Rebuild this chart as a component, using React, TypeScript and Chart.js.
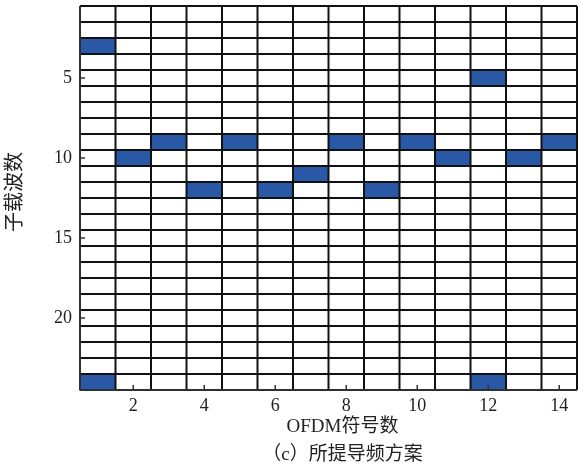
import React, { useEffect, useRef } from "react";
import { Chart, registerables } from "chart.js";

Chart.register(...registerables);

const symbolCount = 14;
const subcarrierCount = 24;
const pilotSymbols = [1, 2, 3, 4, 5, 6, 7, 8, 9, 10, 11, 12, 13, 14, 1, 12];
const pilotSubcarriers = [3, 10, 9, 12, 9, 12, 11, 9, 12, 9, 10, 5, 10, 9, 24, 24];
const xTickValues = [2, 4, 6, 8, 10, 12, 14];
const yTickValues = [5, 10, 15, 20];
const xTitle = "OFDM符号数";
const yTitle = "子载波数";
const caption = "（c）所提导频方案";

const FONT = "'Liberation Serif', 'Noto Sans CJK SC', serif";
const BLUE = "#2958a6";

const gridPlugin = {
  id: "pilotGrid",
  beforeDatasetsDraw(chart: any) {
    const ctx = chart.ctx;
    const xs = chart.scales.x;
    const ys = chart.scales.y;
    const pilots = chart.data.datasets[0].data as { x: number; y: number }[];
    ctx.save();
    for (let i = 1; i <= symbolCount; i++) {
      for (let j = 1; j <= subcarrierCount; j++) {
        const x0 = xs.getPixelForValue(i - 0.5);
        const x1 = xs.getPixelForValue(i + 0.5);
        const y0 = ys.getPixelForValue(j - 0.5);
        const y1 = ys.getPixelForValue(j + 0.5);
        const isPilot = pilots.some((p) => p.x === i && p.y === j);
        ctx.fillStyle = isPilot ? BLUE : "#ffffff";
        ctx.fillRect(Math.min(x0, x1), Math.min(y0, y1), Math.abs(x1 - x0), Math.abs(y1 - y0));
      }
    }
    ctx.strokeStyle = "#111111";
    ctx.lineWidth = 2;
    const top = ys.getPixelForValue(0.5);
    const bottom = ys.getPixelForValue(subcarrierCount + 0.5);
    const left = xs.getPixelForValue(0.5);
    const right = xs.getPixelForValue(symbolCount + 0.5);
    for (let i = 0; i <= symbolCount; i++) {
      const x = xs.getPixelForValue(i + 0.5);
      ctx.beginPath();
      ctx.moveTo(x, top);
      ctx.lineTo(x, bottom);
      ctx.stroke();
    }
    for (let j = 0; j <= subcarrierCount; j++) {
      const y = ys.getPixelForValue(j + 0.5);
      ctx.beginPath();
      ctx.moveTo(left, y);
      ctx.lineTo(right, y);
      ctx.stroke();
    }
    ctx.strokeStyle = "#3a3a3a";
    ctx.lineWidth = 1.5;
    ctx.beginPath();
    ctx.moveTo(left, top);
    ctx.lineTo(left, bottom);
    ctx.lineTo(right, bottom);
    ctx.stroke();
    ctx.strokeStyle = "#333333";
    ctx.lineWidth = 1.5;
    for (const v of xTickValues) {
      const x = xs.getPixelForValue(v);
      ctx.beginPath();
      ctx.moveTo(x, bottom);
      ctx.lineTo(x, bottom - 5);
      ctx.stroke();
    }
    for (const v of yTickValues) {
      const y = ys.getPixelForValue(v);
      ctx.beginPath();
      ctx.moveTo(left, y);
      ctx.lineTo(left + 5, y);
      ctx.stroke();
    }
    ctx.restore();
  },
  afterDraw(chart: any) {
    const ctx = chart.ctx;
    const area = chart.chartArea;
    ctx.save();
    ctx.fillStyle = "#222222";
    ctx.textAlign = "center";
    ctx.textBaseline = "middle";
    const cx = (area.left + area.right) / 2 + 14;
    ctx.font = `19px ${FONT}`;
    ctx.fillText(xTitle, cx, 427);
    ctx.fillText(caption, cx, 455);
    ctx.font = `20px ${FONT}`;
    ctx.translate(16, 192);
    ctx.rotate(-Math.PI / 2);
    ctx.fillText(yTitle, 0, 0);
    ctx.restore();
  },
};

export default function App() {
  const ref = useRef<HTMLCanvasElement | null>(null);
  useEffect(() => {
    if (!ref.current) return;
    const chart = new Chart(ref.current, {
      type: "scatter",
      data: {
        datasets: [
          {
            label: "pilots",
            data: pilotSymbols.map((s, i) => ({ x: s, y: pilotSubcarriers[i] })),
            pointRadius: 0,
            pointHoverRadius: 0,
          },
        ],
      },
      options: {
        responsive: false,
        animation: false,
        layout: { padding: { top: 6, right: 1, left: 0, bottom: 0 } },
        plugins: { legend: { display: false }, tooltip: { enabled: false } },
        scales: {
          x: {
            type: "linear",
            min: 0.5,
            max: symbolCount + 0.5,
            grid: { display: false, drawTicks: false },
            border: { display: false },
            afterBuildTicks: (s: any) => {
              s.ticks = xTickValues.map((v) => ({ value: v }));
            },
            afterFit: (s: any) => {
              s.height = 75;
              s.paddingLeft = 0;
              s.paddingRight = 0;
            },
            ticks: {
              padding: 5,
              color: "#222222",
              font: { family: FONT, size: 18 },
              maxRotation: 0,
              autoSkip: false,
            },
          },
          y: {
            type: "linear",
            reverse: true,
            min: 0.5,
            max: subcarrierCount + 0.5,
            grid: { display: false, drawTicks: false },
            border: { display: false },
            afterBuildTicks: (s: any) => {
              s.ticks = yTickValues.map((v) => ({ value: v }));
            },
            afterFit: (s: any) => {
              s.width = 80;
              s.paddingTop = 0;
              s.paddingBottom = 0;
            },
            ticks: {
              padding: 8,
              color: "#222222",
              font: { family: FONT, size: 18 },
              autoSkip: false,
            },
          },
        },
      },
      plugins: [gridPlugin],
    } as any);
    return () => chart.destroy();
  }, []);
  return (
    <div style={{ position: "fixed", left: 0, top: 0, width: 578, height: 465, background: "#fff" }}>
      <canvas ref={ref} width={578} height={465} style={{ display: "block" }} />
    </div>
  );
}
